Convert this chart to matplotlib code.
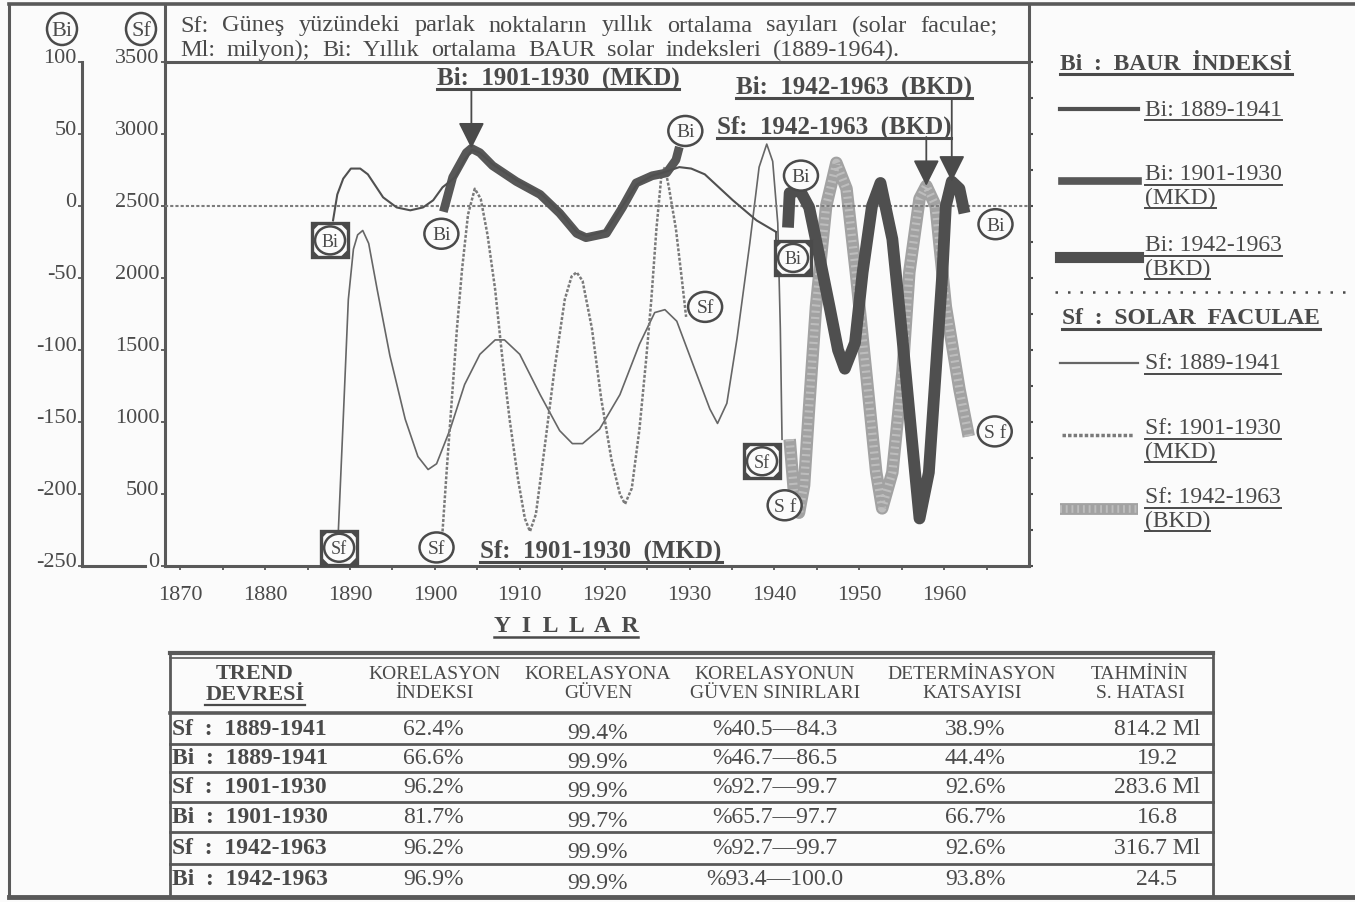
import numpy as np
import matplotlib
matplotlib.use("Agg")
import matplotlib.pyplot as plt
from matplotlib.patches import Rectangle, Ellipse, Polygon
import matplotlib.transforms as mtransforms

plt.rcParams['font.family'] = ['Liberation Serif', 'DejaVu Serif']
plt.rcParams['axes.unicode_minus'] = False

# ---------------------------------------------------------------- data
# Sf: solar faculae trend, 1889-1941 (million)
sf_all_years = [1888.6, 1889.2, 1889.8, 1890.4, 1890.9, 1891.5, 1892.2, 1893.2, 1894.7,
                1896.5, 1898.0, 1899.2, 1900.2, 1901.8, 1903.5, 1905.3, 1907.1, 1908.2,
                1910.0, 1912.4, 1914.7, 1916.2, 1917.4, 1919.4, 1921.8, 1924.1, 1925.9,
                1927.1, 1928.5, 1930.6, 1932.4, 1933.3, 1934.4, 1935.6, 1937.1, 1938.2,
                1939.1, 1939.8, 1940.4, 1940.7, 1940.9]
sf_all = [210, 1020, 1850, 2200, 2300, 2330, 2240, 1920, 1460, 1020, 760, 670, 710, 950,
          1260, 1470, 1570, 1570, 1470, 1190, 940, 850, 850, 950, 1190, 1540, 1760, 1780,
          1700, 1370, 1090, 990, 1130, 1580, 2240, 2770, 2930, 2810, 2380, 1650, 880]

# Bi: BAUR index trend, 1889-1941
bi_all_years = [1888.0, 1888.5, 1889.2, 1890.1, 1891.2, 1892.1, 1893.9, 1895.5, 1897.1,
                1898.6, 1899.8, 1900.9, 1902.4, 1903.5, 1904.4, 1905.3, 1906.8, 1909.6,
                1912.4, 1914.7, 1916.7, 1917.9, 1920.2, 1922.1, 1923.8, 1925.6, 1927.3,
                1928.8, 1930.2, 1931.8, 1935.1, 1937.9, 1940.2]
bi_all = [-10, 8, 19, 26, 26, 22, 6, -1, -3, -1, 4, 13, 20, 32, 39, 37, 29, 18, 9, -4,
          -18, -21, -17, 0, 15, 21, 24, 27, 26, 22, 4, -10, -18]

# MKD period 1901-1930
sf_mkd_years = [1900.9, 1901.4, 1902.0, 1902.6, 1903.2, 1903.9, 1904.7, 1905.4, 1906.2,
                1907.1, 1907.9, 1908.8, 1909.8, 1910.6, 1911.2, 1911.9, 1912.9, 1914.1,
                1915.3, 1916.1, 1916.7, 1917.4, 1918.5, 1919.6, 1920.8, 1921.8, 1922.4,
                1923.2, 1924.1, 1924.9, 1925.5, 1926.1, 1926.7, 1927.1, 1927.6, 1928.4,
                1929.1, 1929.6]
sf_mkd = [240, 670, 1160, 1650, 2060, 2440, 2620, 2550, 2300, 1920, 1470, 1020, 600, 330,
          240, 360, 810, 1370, 1850, 2010, 2040, 1980, 1650, 1160, 740, 500, 430, 540, 950,
          1440, 1850, 2340, 2720, 2770, 2620, 2340, 1990, 1730]

bi_mkd_years = [1901.0, 1902.1, 1903.7, 1904.3, 1905.3, 1906.8, 1909.6, 1912.4, 1914.7,
                1916.7, 1917.8, 1920.2, 1922.1, 1923.7, 1925.6, 1927.3, 1928.4, 1928.8]
bi_mkd = [-4, 20, 37, 40, 37, 28, 17, 8, -5, -19, -22, -19, -1, 16, 21, 23, 32, 41]

# BKD period 1942-1963
sf_bkd_years = [1941.8, 1942.3, 1942.9, 1943.5, 1944.1, 1944.9, 1946.1, 1947.3, 1948.5,
                1949.6, 1950.8, 1952.0, 1952.7, 1953.9, 1955.1, 1955.9, 1957.1, 1957.9,
                1959.0, 1960.2, 1961.8, 1962.9]
sf_bkd = [880, 520, 370, 560, 1110, 1800, 2500, 2800, 2620, 2040, 1350, 650, 400, 650,
          1350, 2040, 2550, 2640, 2500, 1800, 1230, 900]

bi_bkd_years = [1941.6, 1941.8, 1943.0, 1944.1, 1945.3, 1946.5, 1947.5, 1948.3, 1949.5,
                1950.4, 1951.5, 1952.5, 1953.9, 1955.1, 1956.2, 1957.1, 1958.2, 1959.0,
                1959.8, 1960.2, 1960.9, 1961.8, 1962.4]
bi_bkd = [-15, 9, 11, -1, -35, -70, -100, -113, -95, -46, 0, 16, -23, -93, -162, -217,
          -185, -116, -46, 0, 17, 12, -5]

year_ticks = [1870, 1880, 1890, 1900, 1910, 1920, 1930, 1940, 1950, 1960]
sf_ticks = [0, 500, 1000, 1500, 2000, 2500, 3000, 3500]
bi_ticks = [-250, -200, -150, -100, -50, 0, 50, 100]

# statistics table
trend_period = ["Sf  :  1889-1941", "Bi  :  1889-1941", "Sf  :  1901-1930",
                "Bi  :  1901-1930", "Sf  :  1942-1963", "Bi  :  1942-1963"]
kor_index = ["62.4%", "66.6%", "96.2%", "81.7%", "96.2%", "96.9%"]
kor_guven = ["99.4%", "99.9%", "99.9%", "99.7%", "99.9%", "99.9%"]
guven_sinir = ["%40.5\u201484.3", "%46.7\u201486.5", "%92.7\u201499.7", "%65.7\u201497.7",
               "%92.7\u201499.7", "%93.4\u2014100.0"]
determ = ["38.9%", "44.4%", "92.6%", "66.7%", "92.6%", "93.8%"]
tahmin_hata = ["814.2 Ml", "19.2", "283.6 Ml", "16.8", "316.7 Ml", "24.5"]
table_head = ["KORELASYON\nİNDEKSI", "KORELASYONA\nGÜVEN", "KORELASYONUN\nGÜVEN SINIRLARI",
              "DETERMİNASYON\nKATSAYISI", "TAHMİNİN\nS. HATASI"]

# ---------------------------------------------------------------- style
INK = '#4a4a4a'
FRAME = '#595959'
BG = '#fbfbfb'
W, H = 1355, 903
fig = plt.figure(figsize=(W / 100, H / 100), dpi=100, facecolor=BG)


def fx(px):
    return px / W


def fy(py):
    return 1 - py / H


L, R, T, B = 165, 1029, 63, 567
ax = fig.add_axes([fx(L), fy(B), fx(R) - fx(L), fy(T) - fy(B)])
ax.set_facecolor('none')
ax.set_xlim(1868.2, 1970)
ax.set_ylim(0, 3500)
axb = ax.twinx()
axb.set_ylim(-250, 100)

for a in (ax, axb):
    for s in a.spines.values():
        s.set_color(FRAME)
        s.set_linewidth(2.2)
ax.spines['right'].set_visible(False)
for k in ('left', 'top', 'bottom'):
    axb.spines[k].set_visible(False)

ax.set_xticks(year_ticks)
ax.set_xticks(np.arange(1870, 1970, 5), minor=True)
ax.set_yticks(sf_ticks)
ax.tick_params(axis='both', colors=INK, labelcolor=INK, labelsize=16, direction='out',
               length=3, width=1.2)
ax.tick_params(axis='x', pad=11)
ax.tick_params(axis='x', which='minor', length=3, width=1.2, colors=INK)
ax.tick_params(axis='y', pad=1)
axb.set_yticks(np.arange(-250, 101, 25))
axb.tick_params(axis='y', colors=INK, labelright=False, length=3, width=1.5, direction='out')

# Bi scale on the far left
axl = fig.add_axes([fx(82), fy(B), fx(145) - fx(82), fy(T) - fy(B)])
axl.set_facecolor('none')
axl.set_ylim(-250, 100)
axl.set_xticks([])
axl.set_yticks(bi_ticks)
for k in ('top', 'right'):
    axl.spines[k].set_visible(False)
for k in ('left', 'bottom'):
    axl.spines[k].set_color(FRAME)
    axl.spines[k].set_linewidth(2.2)
axl.tick_params(axis='y', colors=INK, labelcolor=INK, labelsize=16, length=3, width=1.2, pad=1)

shift_up = mtransforms.ScaledTranslation(0, 5 / 72, fig.dpi_scale_trans)
for lab in list(ax.get_yticklabels()) + list(axl.get_yticklabels()):
    lab.set_transform(lab.get_transform() + shift_up)

# zero reference of the Bi index
axb.axhline(0, color='#7c7c7c', lw=1.5, ls=(0, (1.5, 1)), zorder=1)

# ---------------------------------------------------------------- curves
SF_BKD_BASE, SF_BKD_DOTS = '#a2a2a2', '#bdbdbd'
ax.plot(sf_all_years, sf_all, color='#666666', lw=1.2, zorder=3)
ax.plot(sf_mkd_years, sf_mkd, color='#7a7a7a', lw=1.8, ls=(0, (1.2, 0.7)), zorder=3)
ax.plot(sf_bkd_years, sf_bkd, color=SF_BKD_BASE, lw=9, solid_capstyle='butt', zorder=3)
ax.plot(sf_bkd_years, sf_bkd, color=SF_BKD_DOTS, lw=6, ls=(0, (0.25, 0.5)), zorder=3)

axb.plot(bi_mkd_years, bi_mkd, color='#575757', lw=6.3, solid_capstyle='butt', zorder=4)
axb.plot(bi_all_years, bi_all, color='#505050', lw=1.5, zorder=4)
axb.plot(bi_bkd_years, bi_bkd, color='#4f4f4f', lw=8.5, solid_capstyle='butt', zorder=4)

# ---------------------------------------------------------------- overlay (pixel coordinates)
ov = fig.add_axes([0, 0, 1, 1])
ov.set_xlim(0, W)
ov.set_ylim(H, 0)
ov.axis('off')
ov.patch.set_alpha(0)


def to_px(axis, x, y):
    X, Y = axis.transData.transform((x, y))
    return X, H - Y


def circle_tag(cx, cy, s, w=34, h=30, size=14):
    ov.add_patch(Ellipse((cx, cy), w, h, fc=BG, ec=INK, lw=1.8, zorder=6))
    ov.text(cx, cy + 1, s, ha='center', va='center', fontsize=size, color=INK, zorder=7)


def square_tag(cx, cy, s, w=36, h=34):
    x0, y0, x1, y1 = cx - w / 2, cy - h / 2, cx + w / 2, cy + h / 2
    ov.add_patch(Rectangle((x0, y0), w, h, fc=BG, ec=INK, lw=2.4, zorder=6))
    c = 8
    for px_, py_, sx, sy in ((x0, y0, 1, 1), (x1, y0, -1, 1), (x0, y1, 1, -1), (x1, y1, -1, -1)):
        ov.add_patch(Polygon([(px_, py_), (px_ + sx * c, py_), (px_, py_ + sy * c)],
                             closed=True, fc=INK, ec='none', zorder=6))
    circle_tag(cx, cy, s, w - 6, h - 6, size=13)


def tag_at(axis, x, y, s, dx, dy, square=False):
    px, py = to_px(axis, x, y)
    if square:
        square_tag(px + dx, py + dy, s)
    else:
        circle_tag(px + dx, py + dy, s)
    return px, py


tag_at(ax, sf_all_years[0], sf_all[0], 'Sf', 1, 12, square=True)
tag_at(axb, bi_all_years[0], bi_all[0], 'Bi', -3, 20, square=True)
ex, ey = tag_at(axb, bi_all_years[-1], bi_all[-1], 'Bi', 17, 26, square=True)
ov.plot([ex, ex], [ey, ey + 12], color=INK, lw=1.3, zorder=5)
tag_at(ax, sf_all_years[-1], sf_all[-1], 'Sf', -20, 22, square=True)
tag_at(axb, bi_mkd_years[0], bi_mkd[0], 'Bi', -2, 22)
tag_at(axb, bi_mkd_years[-1], bi_mkd[-1], 'Bi', 6, -16)
tag_at(ax, sf_mkd_years[0], sf_mkd[0], 'Sf', -6, 16)
tag_at(ax, sf_mkd_years[-1], sf_mkd[-1], 'Sf', 19, -10)
tag_at(axb, bi_bkd_years[0], bi_bkd[0], 'Bi', 13, -52)
tag_at(ax, sf_bkd_years[0], sf_bkd[0], 'S f', -5, 66)
tag_at(axb, bi_bkd_years[-1], bi_bkd[-1], 'Bi', 31, 11)
tag_at(ax, sf_bkd_years[-1], sf_bkd[-1], 'S f', 26, -5)

# axis headings
circle_tag(62, 30, 'Bi', 30, 32, size=16)
circle_tag(141, 30, 'Sf', 30, 32, size=16)

# outer frame and caption box
ov.plot([9, 9], [5, 898], color=FRAME, lw=2.2)
ov.plot([9, W], [5, 5], color=FRAME, lw=2.6)
ov.plot([9, W], [898, 898], color=FRAME, lw=3.5)
ov.plot([L, L], [5, T], color=FRAME, lw=2.2)
ov.plot([R, R], [5, T], color=FRAME, lw=2.2)

texts_to_underline = []


def justified(text, x0, x1, y, size, **kw):
    words = text.split()
    objs = [ov.text(0, y, w_, fontsize=size, va='center', ha='left', color=INK, **kw)
            for w_ in words]
    fig.canvas.draw()
    r = fig.canvas.get_renderer()
    widths = [o.get_window_extent(r).width for o in objs]
    gap = (x1 - x0 - sum(widths)) / (len(words) - 1)
    x = x0
    for o, w_ in zip(objs, widths):
        o.set_x(x)
        x += w_ + gap


justified("Sf: Güneş yüzündeki parlak noktaların yıllık ortalama sayıları (solar faculae;",
          180, 998, 26, 17.5)
justified("Ml: milyon); Bi: Yıllık ortalama BAUR solar indeksleri (1889-1964).",
          180, 900, 50, 17.5)


def utext(x, y, s, size=17, weight='normal', ha='left', lw=1.4):
    t = ov.text(x, y, s, fontsize=size, fontweight=weight, ha=ha, va='center', color=INK)
    texts_to_underline.append((t, lw))
    return t


# period call-outs with arrows
utext(558, 78, 'Bi:  1901-1930  (MKD)', size=18, weight='bold', ha='center', lw=2.2)
utext(854, 87, 'Bi:  1942-1963  (BKD)', size=18, weight='bold', ha='center', lw=2.2)
utext(834, 127, 'Sf:  1942-1963  (BKD)', size=18, weight='bold', ha='center', lw=2.2)
utext(601, 551, 'Sf:  1901-1930  (MKD)', size=18, weight='bold', ha='center', lw=2.2)


def arrow_to(axis, x, y, tail_y):
    px, py = to_px(axis, x, y)
    ov.annotate('', xy=(px, py), xytext=(px, tail_y),
                arrowprops=dict(arrowstyle='-|>,head_length=0.9,head_width=0.45',
                                color=INK, lw=1.3, shrinkA=0, shrinkB=0,
                                mutation_scale=18), zorder=8)


i = int(np.argmax(bi_mkd[:8]))
arrow_to(axb, bi_mkd_years[i], bi_mkd[i], 92)
j = len(bi_bkd) - 5 + int(np.argmax(bi_bkd[-5:]))
arrow_to(axb, bi_bkd_years[j], bi_bkd[j], 100)
k = len(sf_bkd) - 6 + int(np.argmax(sf_bkd[-6:]))
arrow_to(ax, sf_bkd_years[k], sf_bkd[k], 138)

# x axis title
utext(566, 627, 'Y  I  L  L  A  R', size=17, weight='bold', ha='center', lw=1.8)

# ---------------------------------------------------------------- legend
utext(1060, 64, 'Bi  :  BAUR  İNDEKSİ', size=17, weight='bold', lw=2.2)
utext(1062, 319, 'Sf  :  SOLAR  FACULAE', size=17, weight='bold', lw=2.2)
ov.plot([1055, W], [293, 293], color=INK, lw=1.8, ls=(0, (1, 4)))

ov.plot([1060, 1138], [110, 110], color='#505050', lw=3)
utext(1145, 110, 'Bi: 1889-1941')
ov.plot([1062, 1138], [182, 182], color='#575757', lw=5.5)
utext(1145, 175, 'Bi: 1901-1930')
utext(1145, 198, '(MKD)')
ov.plot([1060, 1138], [258, 258], color='#4f4f4f', lw=8)
utext(1145, 246, 'Bi: 1942-1963')
utext(1145, 269, '(BKD)')

ov.plot([1060, 1138], [364, 364], color='#666666', lw=1.6)
utext(1145, 364, 'Sf: 1889-1941')
ov.plot([1062, 1133], [436, 436], color='#7a7a7a', lw=2.5, ls=(0, (1, 0.6)))
utext(1145, 429, 'Sf: 1901-1930')
utext(1145, 452, '(MKD)')
ov.plot([1060, 1138], [510, 510], color=SF_BKD_BASE, lw=8.5, solid_capstyle='butt')
ov.plot([1060, 1138], [510, 510], color=SF_BKD_DOTS, lw=5.5, ls=(0, (0.25, 0.5)))
utext(1145, 498, 'Sf: 1942-1963')
utext(1145, 521, '(BKD)')

# ---------------------------------------------------------------- table
TL, TR = 170, 1213
row_y = [730, 759, 788, 818, 849, 880]
col_x = [433, 598, 775, 975, 1157]
ov.plot([TL, TR], [654, 654], color=FRAME, lw=3)
ov.plot([TL, TR], [659, 659], color=FRAME, lw=1.2)
ov.plot([TL, TR], [714, 714], color=FRAME, lw=2.6)
for yy in (745, 773, 803, 833, 865):
    ov.plot([TL, TR], [yy, yy], color=FRAME, lw=2)
ov.plot([TL, TL], [654, 898], color=FRAME, lw=2)
ov.plot([TR, TR], [654, 898], color=FRAME, lw=2)

ov.text(255, 674, 'TREND', fontsize=16, fontweight='bold', ha='center', va='center', color=INK)
utext(255, 695, 'DEVRESİ', size=16, weight='bold', ha='center', lw=1.6)
for cx, head in zip([435, 598, 775, 972, 1140], table_head):
    top, bot = head.split('\n')
    ov.text(cx, 675, top, fontsize=14, ha='center', va='center', color=INK)
    ov.text(cx, 694, bot, fontsize=14, ha='center', va='center', color=INK)

columns = [kor_index, kor_guven, guven_sinir, determ, tahmin_hata]
for r, yy in enumerate(row_y):
    ov.text(172, yy, trend_period[r], fontsize=17, fontweight='bold', ha='left',
            va='center', color=INK)
    for c, (cx, col) in enumerate(zip(col_x, columns)):
        ov.text(cx, yy + (4 if c == 1 else 0), col[r], fontsize=17, ha='center',
                va='center', color=INK)

# underlines beneath labelled texts
fig.canvas.draw()
rend = fig.canvas.get_renderer()
for t, lw in texts_to_underline:
    bb = t.get_window_extent(rend)
    yy = H - bb.y0 + 0.5
    ov.plot([bb.x0, bb.x1], [yy, yy], color=INK, lw=lw)

fig.savefig('out.png', dpi=100, facecolor=fig.get_facecolor())
